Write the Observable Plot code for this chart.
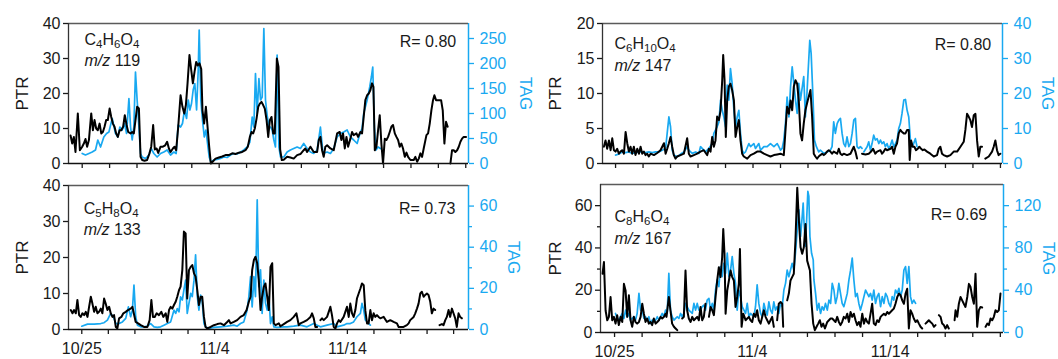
<!DOCTYPE html>
<html><head><meta charset="utf-8">
<script src="https://cdn.jsdelivr.net/npm/d3@7"></script>
<script src="https://cdn.jsdelivr.net/npm/@observablehq/plot@0.6"></script>
<style>
body{margin:0;background:#fff;}
#chart{position:relative;width:1058px;height:359px;overflow:hidden;background:#fff;}
#chart svg{position:absolute;}
</style></head><body><div id="chart"></div>
<script>
// x = days since 10/25
const xTicks = [0,2,4,6,8,10,12,14,16,18,20,22,24,26,28];
const xTickLabels = {0:"10/25",10:"11/4",20:"11/14"};

const ptr119 = [[-0.85,8],[-0.73,5.7],[-0.61,7.6],[-0.49,3.3],[-0.32,14.3],[-0.17,3.8],[0,4.8],[0.12,5.7],[0.24,7],[0.36,4.8],[0.49,6.7],[0.66,14.3],[0.78,9.5],[0.9,12.4],[1.02,10],[1.14,9.5],[1.27,11.4],[1.39,8.6],[1.51,9],[1.63,10.5],[1.75,12.4],[1.87,12.4],[2,15.7],[2.12,13.3],[2.24,11.4],[2.36,10.5],[2.48,8.6],[2.6,7.6],[2.73,9.5],[2.85,9.5],[2.99,10.5],[3.11,13.8],[3.24,11],[3.36,9],[3.53,8.6],[3.65,9],[3.77,8.6],[4.01,16.2],[4.14,15.7],[4.26,1.9],[4.38,1],[4.55,0.8],[4.74,1],[4.91,2.9],[5.04,4.8],[5.18,11],[5.3,4],[5.43,4.3],[5.55,3],[5.72,4.8],[5.89,4.8],[6.06,5.2],[6.2,6.2],[6.33,4.3],[6.45,3.3],[6.62,4.3],[6.74,4.8],[6.86,3.8],[7,10],[7.18,19.5],[7.32,16.2],[7.45,14.3],[7.57,16.7],[7.69,22.9],[7.83,31],[7.96,26.7],[8.08,22.9],[8.2,26.2],[8.32,29],[8.44,28],[8.56,28.6],[8.69,27],[8.78,15.2],[8.9,11.4],[9.03,16.2],[9.15,10.5],[9.27,4.8],[9.39,0],[9.52,0.5],[9.73,1.4],[9.98,1.7],[10.22,2],[10.46,2.4],[10.7,2.4],[10.95,2.9],[11.19,2.7],[11.44,3.1],[11.68,3.3],[11.92,3.8],[12.09,4.8],[12.24,7.6],[12.36,9],[12.48,8.6],[12.6,10],[12.73,12.9],[12.85,16.2],[12.97,17.1],[13.09,17.6],[13.21,16.7],[13.33,15.7],[13.46,12.4],[13.58,7.6],[13.7,12.4],[13.82,13.3],[13.94,8.6],[14.06,8.6],[14.21,30],[14.33,27.6],[14.45,4],[14.57,1],[14.71,1.1],[14.96,1.9],[15.2,1.7],[15.44,1.4],[15.69,2.4],[15.93,2.7],[16.17,3.8],[16.29,4.3],[16.42,3.3],[16.66,4.8],[16.9,3.3],[17.15,3.3],[17.27,6.7],[17.39,7.6],[17.51,3.8],[17.63,1.9],[17.75,4.8],[17.88,5.2],[18.12,4.3],[18.36,3.8],[18.61,8.6],[18.8,9],[18.92,6.7],[19.04,8.6],[19.17,4.3],[19.29,7.6],[19.41,4.8],[19.58,7.1],[19.7,9],[19.82,8.1],[20.02,8.6],[20.14,7.6],[20.31,9],[20.43,8.6],[20.55,13.3],[20.67,18.1],[20.8,19.5],[20.92,20],[21.04,21],[21.16,22.9],[21.26,21.9],[21.36,3.8],[21.48,4.8],[21.6,9.5],[21.72,13.8],[21.84,5.7],[21.96,0],[22.09,7.1],[22.21,6.7],[22.33,7.6],[22.45,9],[22.57,10.5],[22.69,11],[22.82,8.6],[22.94,7.6],[23.06,6.7],[23.18,4.8],[23.3,5.7],[23.42,4.3],[23.55,1.9],[23.67,3.1],[23.79,1.9],[23.96,1],[24.2,1],[24.32,1.9],[24.45,0.5],[24.57,1.4],[24.69,2.9],[24.81,1.9],[24.93,4.3],[25.13,8.1],[25.25,8.6],[25.37,11.4],[25.49,15.2],[25.61,18.1],[25.71,19.5],[25.83,18.1],[25.95,18.1],[26.08,18.1],[26.2,18.1],[26.32,15.2],[26.44,5.7],[26.56,11.9],[26.68,10.5],[26.78,null],[26.88,0],[27,3.8],[27.12,3.8],[27.24,3.3],[27.37,3.8],[27.49,4.8],[27.61,6.2],[27.73,7.1],[27.85,7.6],[28.02,7.6]];
const tag119 = [[0,20],[0.24,17],[0.49,20],[0.73,23],[0.97,27],[1.14,47],[1.34,33],[1.58,53],[1.78,60],[1.95,63],[2.19,90],[2.43,60],[2.6,53],[2.75,73],[2.92,67],[3.09,80],[3.24,60],[3.41,130],[3.53,73],[3.65,47],[3.77,73],[3.89,183],[4.01,127],[4.14,73],[4.26,20],[4.38,13],[4.62,10],[4.87,17],[5.04,30],[5.23,20],[5.47,13],[5.72,20],[5.96,23],[6.2,27],[6.45,17],[6.69,23],[6.86,20],[7,77],[7.18,73],[7.32,80],[7.47,107],[7.62,90],[7.74,127],[7.86,107],[7.98,120],[8.1,147],[8.22,160],[8.35,107],[8.47,187],[8.54,267],[8.66,127],[8.78,87],[8.91,53],[9.03,67],[9.15,40],[9.27,13],[9.39,3],[9.61,7],[9.85,8],[10.1,10],[10.34,13],[10.58,12],[10.83,17],[11.07,20],[11.31,19],[11.56,23],[11.8,27],[12.04,33],[12.24,43],[12.41,93],[12.53,73],[12.65,180],[12.77,100],[12.9,170],[13.02,127],[13.14,133],[13.26,270],[13.38,127],[13.5,97],[13.63,73],[13.75,73],[13.87,67],[13.99,47],[14.11,33],[14.23,217],[14.36,33],[14.48,13],[14.72,13],[14.96,23],[15.2,27],[15.44,30],[15.69,33],[15.93,30],[16.17,40],[16.42,30],[16.66,23],[16.9,20],[17.15,27],[17.39,73],[17.58,20],[17.88,23],[18.12,20],[18.36,30],[18.61,53],[18.85,60],[19.09,63],[19.34,67],[19.58,53],[19.82,47],[20.07,40],[20.31,63],[20.43,70],[20.55,100],[20.8,127],[20.99,153],[21.11,173],[21.21,193],[21.33,73],[21.45,27],[21.6,33],[21.77,30]];

const ptr147 = [[-0.85,2.4],[-0.73,3.3],[-0.61,2.1],[-0.48,3.3],[-0.36,1.9],[-0.24,3.6],[-0.12,1.9],[0,1.7],[0.12,2.1],[0.24,1.4],[0.36,1.7],[0.48,1.9],[0.61,1.4],[0.73,4.5],[0.85,2.9],[0.97,1.7],[1.09,2.4],[1.21,1.4],[1.33,2.4],[1.45,1.2],[1.58,2.1],[1.7,1.4],[1.82,2.4],[1.94,1.4],[2.06,1.7],[2.18,1.2],[2.3,1.4],[2.42,1],[2.55,1.4],[2.79,1.2],[3.03,1.5],[3.27,1.9],[3.52,2.9],[3.64,1.4],[3.76,2.1],[3.88,2.9],[4,3.8],[4.12,2.4],[4.24,1.2],[4.36,0.7],[4.48,1],[4.73,1.2],[4.97,1.4],[5.21,3.6],[5.33,1.4],[5.45,1],[5.7,1.2],[5.94,1.4],[6.18,1.7],[6.42,1.9],[6.67,1.2],[6.79,2.1],[6.91,1.7],[7.03,3.8],[7.15,2.4],[7.27,3.3],[7.39,6.7],[7.52,6.2],[7.64,7.6],[7.76,11.9],[7.83,15.5],[7.93,11.9],[8.02,3.8],[8.12,9],[8.24,11],[8.36,11.4],[8.48,10.5],[8.61,9],[8.73,3.8],[8.85,5.2],[8.97,6.2],[9.09,3.3],[9.21,1.4],[9.33,1],[9.58,0.7],[9.82,1.2],[10.06,1.4],[10.3,1.7],[10.55,1.7],[10.79,1.4],[11.03,1.2],[11.27,1],[11.52,1.2],[11.76,1.3],[12,1.4],[12.24,1.2],[12.48,8.1],[12.61,7.1],[12.73,9],[12.85,7.6],[12.97,11],[13.09,11.9],[13.21,11.4],[13.33,9],[13.45,4.3],[13.57,3.3],[13.69,5.7],[13.81,7.6],[13.98,9],[14.18,10.5],[14.3,6.7],[14.42,1.4],[14.54,1],[14.66,0.7],[14.78,1],[14.9,1.2],[15.03,1.4],[15.15,1.2],[15.27,1.4],[15.39,1.7],[15.51,1.9],[15.63,1.7],[15.75,1.4],[15.87,1.7],[16.12,1.4],[16.24,2.1],[16.36,1.4],[16.48,1.2],[16.6,1.4],[16.84,1.2],[17.09,1.4],[17.21,1.9],[17.33,2.4],[17.45,1.7],[17.57,0.7],[17.7,null],[17.93,1.4],[18.18,1.3],[18.42,1.4],[18.59,1.7],[18.73,2.1],[18.9,1.4],[19.03,1.7],[19.27,1.9],[19.39,1.4],[19.51,1.7],[19.63,2.1],[19.75,1.9],[20,2.1],[20.12,2.4],[20.24,1.4],[20.36,2.4],[20.48,2.9],[20.6,4.3],[20.72,4.8],[20.84,4.5],[20.97,4.3],[21.09,4.3],[21.21,4.8],[21.33,4.8],[21.4,0.5],[21.5,3.3],[21.62,2.4],[21.74,2.4],[21.86,1.9],[21.98,2.1],[22.1,2.4],[22.23,2.1],[22.35,1.9],[22.47,2],[22.66,1.7],[22.9,1.4],[23.15,1],[23.39,1.2],[23.51,2.1],[23.63,2.4],[23.75,1.4],[23.87,1.2],[24.12,1],[24.36,1.2],[24.6,1.7],[24.85,1.7],[25.09,2.4],[25.33,3.1],[25.45,4.8],[25.57,7.1],[25.69,6.7],[25.81,6.2],[25.93,5.2],[26.06,6.9],[26.18,7.1],[26.3,3.3],[26.42,1],[26.54,2.4],[26.66,2.4],[26.75,null],[26.9,0.7],[27.15,1],[27.39,1.7],[27.51,2.4],[27.63,3.3],[27.75,1.9],[27.87,1.2],[27.99,1.4]];
const tag147 = [[0,2.4],[0.24,2.7],[0.48,3.3],[0.73,3.1],[0.97,3.3],[1.21,2.9],[1.45,3.1],[1.7,3.3],[1.94,3.3],[2.18,3.1],[2.42,3.3],[2.67,3.1],[2.91,3.3],[3.15,3.3],[3.39,3.8],[3.64,4.3],[3.88,13.3],[4,10.5],[4.12,3.8],[4.24,2.4],[4.48,1.9],[4.73,2.7],[4.97,3.3],[5.21,4.8],[5.33,3.8],[5.58,2.9],[5.82,3.3],[6.06,2.9],[6.18,4.8],[6.3,4.3],[6.55,3.3],[6.79,4.3],[7.03,5.7],[7.15,8.6],[7.39,10.5],[7.52,11.9],[7.64,18.1],[7.76,15.2],[7.88,13.3],[8,10.5],[8.12,22.4],[8.24,18.1],[8.36,27.1],[8.48,22.9],[8.61,15.2],[8.73,10.5],[8.85,13.3],[8.97,15.2],[9.09,8.6],[9.21,3.8],[9.33,2.9],[9.45,3.3],[9.7,5.7],[9.82,4.8],[10.06,5.7],[10.18,4.3],[10.42,5.7],[10.55,3.8],[10.79,4.8],[11.03,4.8],[11.27,5.7],[11.52,4.8],[11.76,5.7],[11.88,4.8],[12,3.8],[12.12,4.3],[12.24,6.7],[12.36,11.4],[12.48,19],[12.61,13.3],[12.73,21.9],[12.85,27.6],[12.97,22.9],[13.09,18.1],[13.21,14.3],[13.33,22.9],[13.45,18.1],[13.69,24.8],[13.81,13.3],[13.93,20.5],[14.13,35.2],[14.23,31.4],[14.37,18.1],[14.47,6.7],[14.61,4.8],[14.78,3.3],[14.9,3.8],[15.15,2.9],[15.39,3.3],[15.63,3.8],[15.75,4.8],[15.87,11.9],[15.99,8.6],[16.12,11.4],[16.24,12.4],[16.36,12.9],[16.48,8.6],[16.6,5.7],[16.72,4.8],[16.84,7.6],[16.97,4.8],[17.09,5.7],[17.21,8.6],[17.33,12.4],[17.45,12.9],[17.57,4.8],[17.69,4.3],[17.81,4.8],[17.93,4.3],[18,null],[18.06,3.3],[18.3,4.8],[18.42,6.2],[18.54,3.8],[18.66,5.7],[18.78,8.1],[18.9,6.7],[19.03,7.1],[19.15,5.7],[19.27,6.7],[19.39,5.7],[19.51,6.2],[19.63,4.8],[19.75,5.7],[19.87,4.3],[20,5.2],[20.12,6.7],[20.24,4.8],[20.36,5.7],[20.48,6.7],[20.6,10],[20.72,11.4],[20.84,14.3],[20.97,18.1],[21.09,18.3],[21.21,15.2],[21.33,13.3],[21.45,6.7],[21.57,4.8],[21.69,5.7],[21.81,7.1],[21.93,4.8]];

const ptr133 = [[-0.83,5.4],[-0.7,4.5],[-0.58,5.4],[-0.45,4.5],[-0.33,8.2],[-0.2,4],[-0.08,3.5],[0.05,4.5],[0.18,4],[0.3,4.9],[0.43,3.5],[0.55,6.3],[0.68,9.1],[0.8,7.2],[0.93,4.9],[1.05,6.3],[1.18,4.5],[1.3,4.9],[1.43,5.8],[1.55,4.5],[1.68,8.6],[1.8,7.2],[1.93,5.4],[2.06,6.3],[2.18,4.5],[2.31,3.5],[2.43,4],[2.56,0.7],[2.68,0.3],[2.81,3.1],[2.98,3.5],[3.13,4.5],[3.31,4.9],[3.48,5.4],[3.68,5.8],[3.81,6.3],[4.06,2.1],[4.24,1.7],[4.44,1.2],[4.69,0.7],[4.94,0.7],[5.11,2.6],[5.24,8.2],[5.36,3.5],[5.49,3.5],[5.64,4.5],[5.81,4],[5.99,4.9],[6.14,3.5],[6.32,4.5],[6.44,2.1],[6.57,5.4],[6.69,6.3],[6.82,5.8],[6.94,6.8],[7.07,7.7],[7.19,9.1],[7.32,10.9],[7.44,11.9],[7.57,16.5],[7.69,27.2],[7.82,26.7],[7.94,8.6],[8.07,16.5],[8.2,17.4],[8.32,17.9],[8.45,15.6],[8.57,14.7],[8.7,10.9],[8.82,6.8],[8.95,9.1],[9.07,9.1],[9.2,3.5],[9.32,0.7],[9.45,0.3],[9.7,0.7],[9.95,1.2],[10.2,1.5],[10.45,1.7],[10.7,1.2],[10.95,2.1],[11.08,2.6],[11.2,1.7],[11.45,2.1],[11.7,2.6],[11.95,3.5],[12.2,4],[12.41,5.4],[12.58,7.7],[12.71,9.1],[12.83,16.5],[12.96,19.3],[13.08,20.2],[13.21,18.4],[13.33,13.7],[13.46,5.4],[13.58,9.1],[13.71,11.9],[13.83,12.8],[13.96,9.1],[14.09,5.4],[14.21,17.4],[14.34,18.4],[14.46,1.7],[14.59,1.2],[14.84,1.7],[14.96,0.9],[15.21,1.5],[15.46,2.1],[15.71,2.6],[15.96,3.5],[16.16,4.5],[16.34,1.2],[16.46,1.7],[16.71,2.1],[16.96,2.6],[17.22,3.5],[17.34,4.5],[17.47,3.1],[17.59,0.7],[17.72,0.7],[17.8,null],[17.97,2.6],[18.09,3.1],[18.22,2.6],[18.47,3.5],[18.72,6.3],[18.84,4],[18.97,0.7],[19.1,0.3],[19.22,1.7],[19.35,2.6],[19.47,2.1],[19.72,3.5],[19.97,6.3],[20.1,3.5],[20.22,7.2],[20.35,4.5],[20.47,3.5],[20.6,5.4],[20.72,8.6],[20.85,10],[20.98,11.4],[21.1,12.8],[21.23,12.3],[21.35,5.3],[21.48,1.7],[21.6,1.7],[21.73,5.4],[21.85,2.6],[21.98,4.5],[22.1,3.5],[22.23,4],[22.35,3.5],[22.48,3.1],[22.73,3.5],[22.98,2.1],[23.23,2.6],[23.48,2.1],[23.73,1.7],[23.86,0.7],[23.98,0.7],[24.23,0.7],[24.48,1.2],[24.61,1.7],[24.73,2.6],[24.99,3.5],[25.11,4.5],[25.24,5.8],[25.36,7.2],[25.49,10],[25.61,10.5],[25.74,9.1],[25.86,9.6],[25.99,10],[26.11,9.6],[26.24,7.7],[26.36,4.5],[26.49,5.8],[26.61,5.4],[26.72,null],[26.94,1.2],[27.12,1.5],[27.24,1.2],[27.37,2.6],[27.49,3.5],[27.62,5.4],[27.74,3.5],[27.87,5.8],[27.99,4.5],[28.12,3.1],[28.24,0.7],[28.37,4.5],[28.49,3.5],[28.62,3.1]];
const tag133 = [[0,1.6],[0.43,2.6],[0.93,2.6],[1.43,2.9],[1.68,3.3],[1.93,4.6],[2.18,7.8],[2.38,6.2],[2.56,2.9],[2.81,2.9],[3.06,3.7],[3.31,5.4],[3.51,11],[3.68,6.2],[3.81,9.4],[3.93,21.6],[4.06,6.2],[4.19,2.1],[4.44,1.3],[4.69,1.3],[4.94,1.6],[5.19,2.9],[5.44,1.3],[5.69,1],[5.94,1.3],[6.19,2.1],[6.44,2.9],[6.69,3.7],[6.94,9.4],[7.07,7.8],[7.19,10.2],[7.32,8.6],[7.44,15.9],[7.57,14.3],[7.69,19.2],[7.82,24],[7.94,7.8],[8.07,12.7],[8.2,17.6],[8.32,16],[8.45,24],[8.57,36.3],[8.7,16],[8.82,9.4],[8.95,16.7],[9.07,13.5],[9.2,2.9],[9.32,1.3],[9.57,0.5],[9.95,1],[10.45,1.3],[10.95,1.6],[11.45,2.1],[11.7,1.6],[11.95,2.9],[12.2,3.7],[12.45,9.4],[12.58,16],[12.71,25.7],[12.83,11],[12.96,25.7],[13.08,16],[13.21,63],[13.33,20.8],[13.46,29],[13.58,7.8],[13.71,24],[13.83,13],[13.96,9.4],[14.09,16],[14.21,2.9],[14.34,6.2],[14.46,1.3],[14.71,1],[15.21,1.3],[15.46,1.3],[15.96,1.6],[16.46,2.1],[16.96,1.3],[17.47,2.9],[17.72,2.1],[17.97,1.3],[18.47,2.1],[18.97,2.9],[19.22,1.3],[19.72,2.1],[19.97,2.9],[20.22,2.9],[20.47,3.7],[20.72,6.2],[20.98,7.8],[21.1,12.7],[21.23,9.4],[21.35,4.6],[21.6,2.9],[21.73,2.1]];

const ptr167 = [[-0.87,27.8],[-0.77,33.3],[-0.65,10.4],[-0.53,5.8],[-0.41,7.4],[-0.29,16.8],[-0.17,5.8],[-0.05,7.4],[0.07,4.2],[0.19,8.2],[0.31,3.5],[0.44,7.4],[0.56,5],[0.68,23],[0.8,19.9],[0.92,7.4],[1.04,17.6],[1.16,5.8],[1.28,2.7],[1.4,7.4],[1.52,5],[1.64,4.2],[1.77,5],[1.89,7.4],[2.01,13.6],[2.13,8.9],[2.25,5],[2.37,6.6],[2.49,4.2],[2.61,5],[2.73,3.5],[2.85,6.6],[2.98,4.2],[3.1,5],[3.22,5.8],[3.34,7.4],[3.46,6.6],[3.58,7.4],[3.7,8.9],[3.77,7.4],[3.94,16.8],[4.06,10.4],[4.18,4.2],[4.31,2.7],[4.43,1.9],[4.55,1.1],[4.65,null],[4.91,6.6],[5.03,7.4],[5.15,29.3],[5.27,10.4],[5.39,6.6],[5.52,5],[5.64,7.4],[5.76,5.8],[5.88,6.6],[6,7.4],[6.12,5.8],[6.24,12.1],[6.36,5.8],[6.48,7.4],[6.6,13.6],[6.7,null],[6.85,7.4],[6.97,12.1],[7.09,10.5],[7.21,8.2],[7.33,16.8],[7.45,24.6],[7.57,30.9],[7.69,26.2],[7.81,35.6],[7.89,48.9],[7.98,37.2],[8.06,8.9],[8.18,19.9],[8.3,24.6],[8.42,29.3],[8.54,26.2],[8.66,24.6],[8.78,12.1],[8.9,16.8],[9.02,23],[9.1,39.5],[9.22,2.7],[9.34,8.9],[9.43,7.4],[9.51,5.8],[9.63,6.6],[9.75,7.4],[9.87,5.8],[9.99,5],[10.11,8.9],[10.23,7.4],[10.35,10.5],[10.47,5.8],[10.6,4.2],[10.72,7.4],[10.84,10.5],[10.96,7.4],[11.08,5.8],[11.2,4.2],[11.32,5.8],[11.44,7.4],[11.56,2.7],[11.65,null],[11.8,5.8],[11.92,13.6],[12.05,14.4],[12.17,13.6],[12.24,2.7],[12.35,null],[12.53,15.2],[12.65,18.4],[12.77,24.6],[12.89,26.2],[13.01,27.8],[13.13,43.5],[13.26,68.5],[13.38,52.9],[13.5,40.3],[13.62,37.2],[13.74,40.3],[13.86,51.3],[13.98,34],[14.18,29.3],[14.3,13.6],[14.42,4.2],[14.54,1.1],[14.66,2.7],[14.78,4.2],[14.9,5.8],[15.02,2.7],[15.14,4.2],[15.27,1.9],[15.44,5],[15.56,5.8],[15.68,6.6],[15.8,6.6],[15.92,5.8],[16.04,5],[16.16,7.4],[16.28,5],[16.4,3.5],[16.52,5],[16.64,7.4],[16.77,6.6],[16.89,8.9],[17.01,5],[17.13,9.7],[17.25,7.4],[17.37,8.9],[17.49,5.8],[17.61,3.5],[17.73,5],[17.85,2.7],[17.98,8.9],[18.1,4.2],[18.22,6.6],[18.34,5],[18.46,4.2],[18.58,8.9],[18.7,13.6],[18.82,4.2],[18.94,3.5],[19.06,5.8],[19.18,5],[19.31,7.4],[19.43,8.2],[19.55,8.9],[19.67,8.2],[19.79,9.7],[19.91,8.9],[20.03,9.7],[20.15,10.5],[20.27,11.3],[20.39,13.6],[20.52,16.8],[20.64,18.4],[20.76,17.6],[20.88,15.2],[21,13.6],[21.12,18.4],[21.24,20.7],[21.36,1.9],[21.48,10.5],[21.6,8.9],[21.72,6.6],[21.85,5],[21.97,5.8],[22.09,4.2],[22.21,2.7],[22.33,1.9],[22.45,null],[22.57,4.2],[22.69,5],[22.81,5.8],[22.93,5],[23.06,4.2],[23.18,2.7],[23.3,3.5],[23.4,null],[23.54,8.2],[23.66,7.4],[23.78,4.2],[23.9,3.5],[24.02,1.9],[24.14,3.5],[24.26,1.9],[24.4,null],[24.68,5.8],[24.75,10.5],[24.87,7.4],[24.99,13.6],[25.11,16.8],[25.23,15.2],[25.35,13.6],[25.47,12.1],[25.6,16.8],[25.72,23],[25.84,21.5],[25.96,16.8],[26.08,13.6],[26.2,27.8],[26.32,2.7],[26.44,10.5],[26.56,12.1],[26.68,11.8],[26.8,null],[26.93,2.7],[27.05,4.2],[27.17,3.5],[27.29,6.6],[27.41,5.8],[27.53,7.4],[27.65,10.5],[27.77,9.7],[27.89,10.5],[28.01,18.4]];
const tag167 = [[0.07,18],[0.19,13.3],[0.31,11.7],[0.44,14.9],[0.56,18],[0.68,13.3],[0.8,21.2],[0.92,14.9],[1.04,18],[1.16,11.7],[1.28,13.3],[1.4,14.9],[1.52,11.7],[1.64,18],[1.77,37],[1.89,21.2],[2.01,21.2],[2.13,13.3],[2.25,14.9],[2.37,11.7],[2.49,14.9],[2.61,8.5],[2.73,11.7],[2.85,10.1],[2.98,11.7],[3.1,14.9],[3.22,11.7],[3.34,14.9],[3.46,18],[3.58,14.9],[3.7,21.2],[3.82,18],[3.94,56],[4.06,21.2],[4.18,14.9],[4.31,11.7],[4.43,13.3],[4.55,14.9],[4.67,13.3],[4.79,18],[4.91,14.9],[5.03,18],[5.15,27.5],[5.27,24.4],[5.39,21.2],[5.52,19.6],[5.64,18],[5.76,27.5],[5.88,21.2],[6,27.5],[6.12,21.2],[6.24,21.2],[6.36,24.4],[6.48,25.9],[6.6,21.2],[6.72,30.7],[6.85,32.3],[6.97,21.2],[7.09,27.5],[7.21,21.2],[7.33,40.2],[7.45,49.7],[7.57,43.4],[7.69,62.3],[7.81,52.8],[7.93,65.5],[8.06,56],[8.18,75],[8.3,52.8],[8.42,59],[8.54,71.8],[8.66,56],[8.78,46.5],[8.9,21.2],[9.02,40.2],[9.14,33.9],[9.26,24.4],[9.39,21.2],[9.51,18],[9.63,27.5],[9.75,14.9],[9.87,18],[10.11,14.9],[10.23,24.4],[10.35,45],[10.47,27.5],[10.6,18],[10.72,14.9],[10.84,27.5],[10.96,21.2],[11.08,16.5],[11.2,29],[11.32,21.2],[11.44,18],[11.56,29],[11.68,21.2],[11.8,24.4],[11.92,18],[12.05,27.5],[12.17,24.4],[12.29,40.2],[12.41,46.5],[12.53,59],[12.65,52.8],[12.77,59],[12.89,65.5],[13.01,59],[13.13,75],[13.26,97],[13.38,116],[13.5,90.8],[13.62,109.8],[13.69,122.5],[13.74,106.6],[13.86,81.6],[14.03,133.5],[14.1,129],[14.18,90.8],[14.3,75],[14.42,68.7],[14.47,49.7],[14.59,37],[14.71,21.2],[14.83,27.5],[14.95,18],[15.07,24.4],[15.19,21.2],[15.31,27.5],[15.44,21.2],[15.56,30.7],[15.68,27.5],[15.8,46.5],[15.92,40.2],[16.04,27.5],[16.16,33.9],[16.28,46.5],[16.4,37],[16.52,27.5],[16.64,24.4],[16.77,30.7],[16.89,37],[17.01,49.7],[17.13,59],[17.25,70.3],[17.37,49.7],[17.49,33.9],[17.61,37],[17.73,27.5],[17.85,21.2],[17.98,27.5],[18.1,33.9],[18.22,40.2],[18.34,37],[18.46,33.9],[18.58,37],[18.7,30.7],[18.82,40.2],[18.94,27.5],[19.06,33.9],[19.18,37],[19.31,24.4],[19.43,33.9],[19.55,27.5],[19.67,37],[19.79,33.9],[19.91,27.5],[20.03,24.4],[20.15,33.9],[20.27,30.7],[20.39,40.2],[20.52,37],[20.64,41.8],[20.76,33.9],[20.88,40.2],[21,59],[21.12,62.3],[21.24,46.5],[21.36,62.3],[21.48,33.9],[21.6,27.5],[21.72,30.7],[21.85,27.5]];

const FONT = '"Liberation Sans", Arial, Helvetica, sans-serif';
const BLUE = "#19a9f1";

const panels = [
  {formula:"C4H6O4", mz:"m/z 119", r:"R= 0.80", ptr:ptr119, tag:tag119,
   ptrDomain:[0,40], ptrTicks:[0,10,20,30,40], ptrMinor:[],
   tagDomain:[0,280], tagTicks:[0,50,100,150,200,250], tagMinor:[],
   xDomain:[-1,28.2], xLabels:false,
   box:{left:0,top:0,width:540,height:175}, m:{l:68,r:72,t:23,b:12},
   t:{fdx:16,fdy:10.3,mdy:31.3,rdx:-12.3,rdy:12,ptr:-46,tag:56.5}},
  {formula:"C6H10O4", mz:"m/z 147", r:"R= 0.80", ptr:ptr147, tag:tag147,
   ptrDomain:[0,20], ptrTicks:[0,5,10,15,20], ptrMinor:[],
   tagDomain:[0,40], tagTicks:[0,10,20,30,40], tagMinor:[],
   xDomain:[-0.95,28.15], xLabels:false,
   box:{left:530,top:0,width:528,height:175}, m:{l:72,r:56,t:23,b:12},
   t:{fdx:12,fdy:14.3,mdy:36.3,rdx:-11.3,rdy:15.3,ptr:-47,tag:45}},
  {formula:"C5H8O4", mz:"m/z 133", r:"R= 0.73", ptr:ptr133, tag:tag133,
   ptrDomain:[0,40], ptrTicks:[0,10,20,30,40], ptrMinor:[],
   tagDomain:[0,70], tagTicks:[0,20,40,60], tagMinor:[10,30,50],
   xDomain:[-1,29.12], xLabels:true,
   box:{left:0,top:175,width:540,height:184}, m:{l:68,r:72,t:10,b:30},
   t:{fdx:15.3,fdy:16.7,mdy:37.7,rdx:-13,rdy:16.7,ptr:-46.3,tag:45.3}},
  {formula:"C8H6O4", mz:"m/z 167", r:"R= 0.69", ptr:ptr167, tag:tag167,
   ptrDomain:[0,70], ptrTicks:[0,20,40,60], ptrMinor:[10,30,50],
   tagDomain:[0,140], tagTicks:[0,40,80,120], tagMinor:[20,60,100],
   xDomain:[-1.02,28.23], xLabels:true,
   box:{left:530,top:175,width:528,height:184}, m:{l:70,r:55,t:9,b:27},
   t:{fdx:14,fdy:26,mdy:47.7,rdx:-16.3,rdy:24.3,ptr:-45,tag:45}}
];

const SVGNS = "http://www.w3.org/2000/svg";
function tspan(txt, attrs) {
  const s = document.createElementNS(SVGNS, "tspan");
  s.textContent = txt;
  for (const k in attrs) s.setAttribute(k, attrs[k]);
  return s;
}
function richify(svg) {
  svg.querySelectorAll("text").forEach(t => {
    const s = t.textContent;
    if (/^C\d/.test(s)) {
      t.textContent = "";
      let sub = false;
      for (const part of s.match(/[A-Z][a-z]?|\d+/g)) {
        const num = /\d/.test(part);
        const a = {};
        if (num) { a["font-size"] = 11.5; if (!sub) { a.dy = 3; sub = true; } }
        else if (sub) { a.dy = -3; sub = false; }
        t.appendChild(tspan(part, a));
      }
    } else if (s.startsWith("m/z")) {
      t.textContent = "";
      t.appendChild(tspan("m/z", {"font-style": "italic"}));
      t.appendChild(tspan(s.slice(3)));
    }
  });
}

const chart = document.getElementById("chart");
const X = d => d[0], Y = d => d[1];
for (const p of panels) {
  const common = {
    width: p.box.width, height: p.box.height,
    marginLeft: p.m.l, marginRight: p.m.r, marginTop: p.m.t, marginBottom: p.m.b
  };
  const tagSvg = Plot.plot({
    ...common,
    style: {background: "transparent", fontFamily: FONT, fontSize: "16px", color: BLUE, overflow: "visible"},
    x: {domain: p.xDomain, axis: null},
    y: {domain: p.tagDomain},
    marks: [
      Plot.line(p.tag, {x: X, y: Y, stroke: BLUE, strokeWidth: 1.7, strokeLinejoin: "round"}),
      Plot.ruleX([p.xDomain[1]], {stroke: BLUE, strokeWidth: 1.5}),
      Plot.axisY({anchor: "right", ticks: p.tagTicks, tickSize: 5, tickPadding: 6, strokeWidth: 1.3, label: null}),
      p.tagMinor.length ? Plot.axisY({anchor: "right", ticks: p.tagMinor, tickSize: 3, tickFormat: () => "", strokeWidth: 1.3, label: null}) : null,
      Plot.text(["TAG"], {text: d => d, frameAnchor: "right", rotate: 90, textAnchor: "middle", lineAnchor: "middle", dx: p.t.tag, fontSize: 17, fill: BLUE})
    ].filter(Boolean)
  });
  const ptrSvg = Plot.plot({
    ...common,
    style: {background: "transparent", fontFamily: FONT, fontSize: "16px", color: "#1a1a1a", overflow: "visible"},
    x: {domain: p.xDomain},
    y: {domain: p.ptrDomain},
    marks: [
      Plot.line(p.ptr, {x: X, y: Y, stroke: "#000", strokeWidth: 2, strokeLinejoin: "round"}),
      Plot.ruleY([p.ptrDomain[1]], {stroke: "#5a5a5a", strokeWidth: 1.5}),
      Plot.ruleX([p.xDomain[0]], {stroke: "#333", strokeWidth: 1.3}),
      Plot.ruleY([0], {stroke: "#111", strokeWidth: 1.3}),
      Plot.axisY({ticks: p.ptrTicks, tickSize: 5, tickPadding: 3, strokeWidth: 1.3, label: null}),
      p.ptrMinor.length ? Plot.axisY({ticks: p.ptrMinor, tickSize: 3, tickFormat: () => "", strokeWidth: 1.3, label: null}) : null,
      Plot.axisX({ticks: xTicks, tickSize: 5, tickPadding: 8, strokeWidth: 1.3, label: null,
                  tickFormat: d => p.xLabels ? (xTickLabels[d] ?? "") : ""}),
      Plot.text([p.formula], {text: d => d, frameAnchor: "top-left", dx: p.t.fdx, dy: p.t.fdy, fontSize: 16}),
      Plot.text([p.mz], {text: d => d, frameAnchor: "top-left", dx: p.t.fdx, dy: p.t.mdy, fontSize: 16}),
      Plot.text([p.r], {text: d => d, frameAnchor: "top-right", dx: p.t.rdx, dy: p.t.rdy, fontSize: 16}),
      Plot.text(["PTR"], {text: d => d, frameAnchor: "left", rotate: -90, textAnchor: "middle", lineAnchor: "middle", dx: p.t.ptr, fontSize: 17})
    ].filter(Boolean)
  });
  richify(ptrSvg);
  for (const s of [tagSvg, ptrSvg]) {
    s.style.left = p.box.left + "px";
    s.style.top = p.box.top + "px";
    chart.appendChild(s);
  }
}
</script></body></html>
